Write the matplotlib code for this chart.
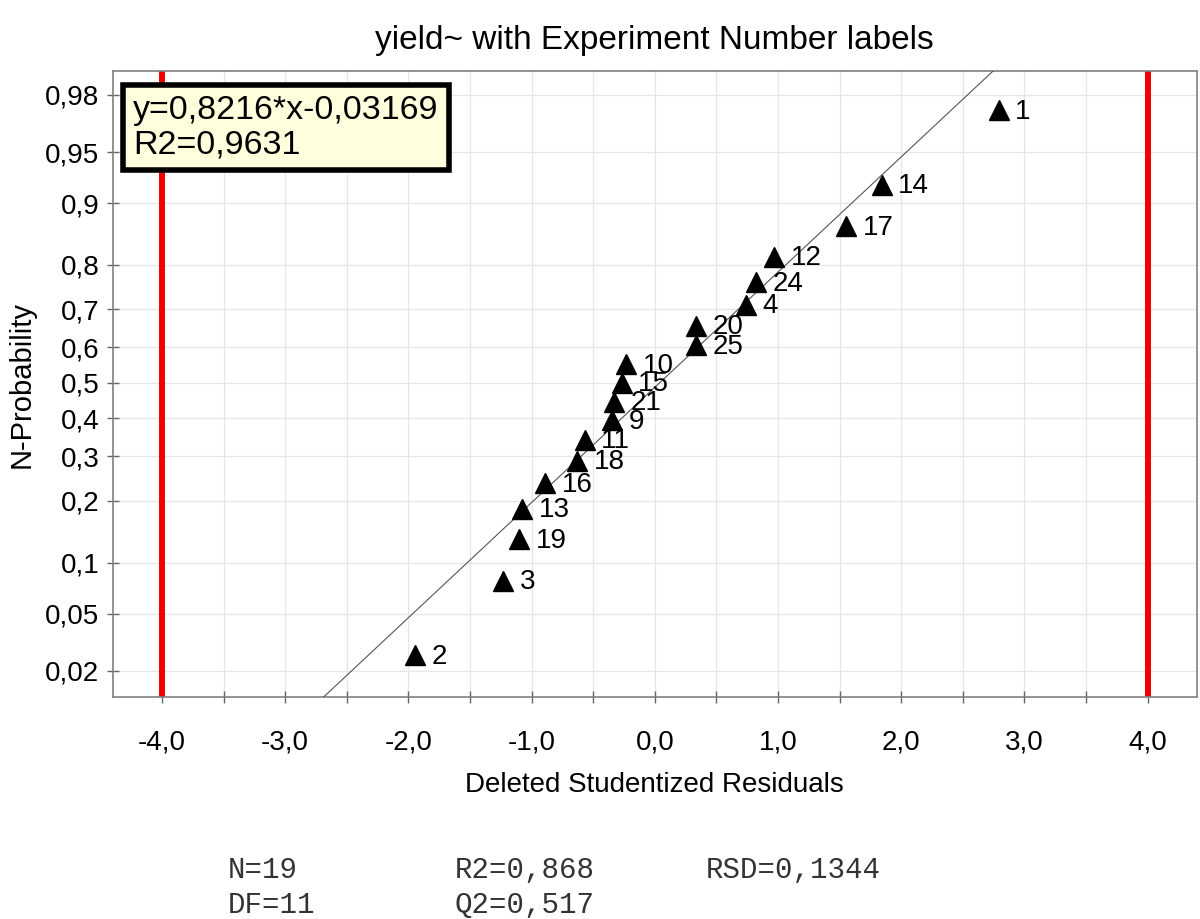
import numpy as np
import matplotlib
matplotlib.use("Agg")
import matplotlib.pyplot as plt
from matplotlib.ticker import MultipleLocator, FuncFormatter
from statistics import NormalDist

plt.rcParams['font.family'] = ['Liberation Sans', 'DejaVu Sans']

# experiment numbers, sorted by residual
labels = ['2', '3', '19', '13', '16', '18', '11', '9', '21', '15',
          '10', '25', '20', '4', '24', '12', '17', '14', '1']
residuals = [-1.95, -1.23, -1.10, -1.08, -0.89, -0.63, -0.57, -0.35, -0.33, -0.27,
             -0.23, 0.33, 0.33, 0.74, 0.82, 0.97, 1.55, 1.84, 2.79]
nprob = [0.026, 0.079, 0.132, 0.184, 0.237, 0.289, 0.342, 0.395, 0.447, 0.500,
         0.553, 0.605, 0.658, 0.711, 0.763, 0.816, 0.868, 0.921, 0.974]

# fitted line (normal score = slope*x + intercept)
slope, intercept = 0.8216, -0.03169
limits = [-4.0, 4.0]

yticks = [0.02, 0.05, 0.1, 0.2, 0.3, 0.4, 0.5, 0.6, 0.7, 0.8, 0.9, 0.95, 0.98]
yticklabels = ['0,02', '0,05', '0,1', '0,2', '0,3', '0,4', '0,5', '0,6', '0,7',
               '0,8', '0,9', '0,95', '0,98']

_nd = NormalDist()
_ppf = np.vectorize(_nd.inv_cdf, otypes=[float])
_cdf = np.vectorize(_nd.cdf, otypes=[float])


def to_z(p):
    p = np.clip(np.asarray(p, float), 1e-9, 1 - 1e-9)
    return _ppf(p)


def from_z(z):
    return _cdf(np.asarray(z, float))


fig = plt.figure(figsize=(12, 9.19), dpi=100)
ax = fig.add_axes([0.0939, 0.2416, 0.9036, 0.6806])
ax.set_yscale('function', functions=(to_z, from_z))

ax.set_xlim(-4.4, 4.4)
ax.set_ylim(float(from_z(-2.24)), float(from_z(2.22)))

# grid
ax.xaxis.set_major_locator(MultipleLocator(1.0))
ax.xaxis.set_minor_locator(MultipleLocator(0.5))
ax.xaxis.set_major_formatter(FuncFormatter(lambda v, pos: f"{v:.1f}".replace('.', ',')))
ax.set_yticks(yticks)
ax.set_yticklabels(yticklabels)
ax.yaxis.set_minor_locator(matplotlib.ticker.NullLocator())
ax.grid(True, which='both', axis='x', color='#e6e6e6', lw=0.9, zorder=0)
ax.grid(True, which='major', axis='y', color='#e6e6e6', lw=0.9, zorder=0)
ax.set_axisbelow(True)

ax.tick_params(axis='both', which='both', direction='inout', length=9,
               width=1, color='#666666', labelsize=20)
ax.tick_params(axis='x', which='both', pad=19)
ax.tick_params(axis='y', pad=5)

for sp in ax.spines.values():
    sp.set_color('#808080')
    sp.set_linewidth(1.2)

# limit lines
for lim in limits:
    ax.axvline(lim, color='#f20000', lw=4.3, zorder=2)

# fitted line
xs = np.linspace(-4.4, 4.4, 400)
ax.plot(xs, from_z(slope * xs + intercept), color='#555555', lw=0.8, zorder=3)

# points
ax.plot(residuals, nprob, linestyle='none', marker='^', ms=14.5,
        color='black', zorder=4)
for x, p, lab in zip(residuals, nprob, labels):
    ax.annotate(lab, (x, p), xytext=(12, -1), textcoords='offset points',
                ha='left', va='center', fontsize=20, zorder=5)

# equation box
ax.text(0.0187, 0.962, "y=0,8216*x-0,03169\nR2=0,9631", transform=ax.transAxes,
        ha='left', va='top', fontsize=24.5, linespacing=1.12, zorder=6,
        bbox=dict(boxstyle='square,pad=0.3', fc='#ffffdd', ec='black', lw=4))

ax.set_title("yield~ with Experiment Number labels", fontsize=24, pad=16)
ax.set_xlabel("Deleted Studentized Residuals", fontsize=20, labelpad=12)
ax.set_ylabel("N-Probability", fontsize=21, labelpad=7)

# model statistics
mono = dict(family='Liberation Mono', fontsize=21, color='#333333', va='center')
fig.text(228 / 1200, 1 - 870 / 919, "N=19", **mono)
fig.text(455 / 1200, 1 - 870 / 919, "R2=0,868", **mono)
fig.text(706 / 1200, 1 - 870 / 919, "RSD=0,1344", **mono)
fig.text(228 / 1200, 1 - 905 / 919, "DF=11", **mono)
fig.text(455 / 1200, 1 - 905 / 919, "Q2=0,517", **mono)

fig.savefig("out.png", dpi=100)
